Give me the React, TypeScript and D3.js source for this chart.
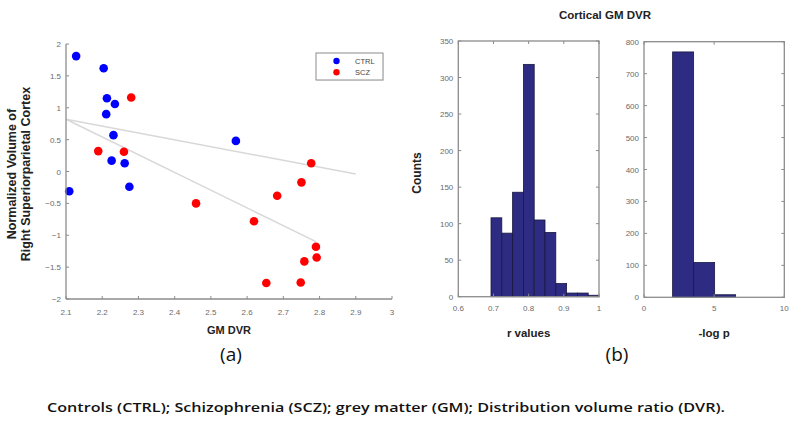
import React from "react";
import * as d3 from "d3";

const ctrlX = [2.128, 2.204, 2.213, 2.235, 2.211, 2.231, 2.226, 2.262, 2.109, 2.275, 2.569];
const ctrlY = [1.81, 1.62, 1.15, 1.06, 0.9, 0.57, 0.17, 0.13, -0.31, -0.24, 0.48];
const sczX = [2.28, 2.189, 2.26, 2.459, 2.777, 2.75, 2.683, 2.619, 2.79, 2.792, 2.758, 2.653, 2.748];
const sczY = [1.16, 0.32, 0.31, -0.5, 0.13, -0.17, -0.38, -0.78, -1.18, -1.35, -1.41, -1.75, -1.74];
const fitAX = [2.1, 2.9];
const fitAY = [0.82, -0.04];
const fitBX = [2.1, 2.79];
const fitBY = [0.82, -1.1];

const scatterXTicks = [2.1, 2.2, 2.3, 2.4, 2.5, 2.6, 2.7, 2.8, 2.9, 3];
const scatterYTicks = [-2, -1.5, -1, -0.5, 0, 0.5, 1, 1.5, 2];

const rStart = 0.693;
const rWidth = 0.0307;
const rCounts = [108, 87, 143, 318, 105, 88, 18, 5, 5, 2];
const rXTicks = [0.6, 0.7, 0.8, 0.9, 1];
const rYTicks = [0, 50, 100, 150, 200, 250, 300, 350];

const pStart = 2.04;
const pWidth = 1.497;
const pCounts = [768, 109, 8];
const pXTicks = [0, 5, 10];
const pYTicks = [0, 100, 200, 300, 400, 500, 600, 700, 800];

const AX = "#8c8c8c";
const TICKTXT = "#6b6b6b";
const BAR = "#2d2b82";
const FONT = "'Liberation Sans', Arial, sans-serif";

function fmt(v: number) {
  return d3.format("~g")(v);
}

function Histogram({
  x,
  y,
  start,
  width,
  counts,
  xTicks,
  yTicks,
  xLabel,
}: any) {
  const [x0, x1] = x.range();
  const [y0, y1] = y.range();
  const t = 3;
  return (
    <g>
      {counts.map((c: number, i: number) => (
        <rect
          key={i}
          x={x(start + i * width)}
          y={y(c)}
          width={x(start + (i + 1) * width) - x(start + i * width)}
          height={y(0) - y(c)}
          fill={BAR}
          stroke="#1a1940"
          strokeWidth={0.8}
        />
      ))}
      <rect x={x0} y={y1} width={x1 - x0} height={y0 - y1} fill="none" stroke={AX} strokeWidth={1.3} />
      {xTicks.map((v: number) => (
        <g key={"x" + v}>
          <line x1={x(v)} x2={x(v)} y1={y0} y2={y0 - t} stroke={AX} />
          <line x1={x(v)} x2={x(v)} y1={y1} y2={y1 + t} stroke={AX} />
          <text x={x(v)} y={y0 + 14} textAnchor="middle" fontSize={8} fill={TICKTXT} fontFamily={FONT}>
            {fmt(v)}
          </text>
        </g>
      ))}
      {yTicks.map((v: number) => (
        <g key={"y" + v}>
          <line x1={x0} x2={x0 + t} y1={y(v)} y2={y(v)} stroke={AX} />
          <line x1={x1} x2={x1 - t} y1={y(v)} y2={y(v)} stroke={AX} />
          <text x={x0 - 5} y={y(v) + 3} textAnchor="end" fontSize={8} fill={TICKTXT} fontFamily={FONT}>
            {fmt(v)}
          </text>
        </g>
      ))}
      <text x={(x0 + x1) / 2} y={337} textAnchor="middle" fontSize={11.5} fontWeight="bold" fill="#222" fontFamily={FONT}>
        {xLabel}
      </text>
    </g>
  );
}

export default function App() {
  const sx = d3.scaleLinear().domain([2.1, 3]).range([66, 392]);
  const sy = d3.scaleLinear().domain([-2, 2]).range([299, 44]);
  const hx1 = d3.scaleLinear().domain([0.6, 1]).range([458.3, 599]);
  const hy1 = d3.scaleLinear().domain([0, 350]).range([296.7, 41]);
  const hx2 = d3.scaleLinear().domain([0, 10]).range([644, 784.3]);
  const hy2 = d3.scaleLinear().domain([0, 800]).range([297.3, 41.7]);
  const line = d3
    .line<[number, number]>()
    .x((d) => sx(d[0]))
    .y((d) => sy(d[1]));
  const fitA = fitAX.map((v, i) => [v, fitAY[i]] as [number, number]);
  const fitB = fitBX.map((v, i) => [v, fitBY[i]] as [number, number]);

  return (
    <svg width={800} height={424} style={{ position: "absolute", left: 0, top: 0, background: "#fff" }}>
      <rect width={800} height={424} fill="#fff" />
      {/* scatter panel */}
      <path d={line(fitA) || ""} stroke="#d8d8d8" strokeWidth={1.5} fill="none" />
      <path d={line(fitB) || ""} stroke="#d8d8d8" strokeWidth={1.5} fill="none" />
      {ctrlX.map((v, i) => (
        <circle key={"c" + i} cx={sx(v)} cy={sy(ctrlY[i])} r={4.3} fill="#0000ff" />
      ))}
      {sczX.map((v, i) => (
        <circle key={"s" + i} cx={sx(v)} cy={sy(sczY[i])} r={4.3} fill="#ff0000" />
      ))}
      <line x1={66} x2={66} y1={44} y2={299} stroke={AX} strokeWidth={1.3} />
      <line x1={66} x2={392} y1={299} y2={299} stroke={AX} strokeWidth={1.3} />
      {scatterXTicks.map((v) => (
        <g key={"sx" + v}>
          <line x1={sx(v)} x2={sx(v)} y1={299} y2={296} stroke={AX} />
          <text x={sx(v)} y={315} textAnchor="middle" fontSize={8} fill={TICKTXT} fontFamily={FONT}>
            {fmt(v)}
          </text>
        </g>
      ))}
      {scatterYTicks.map((v) => (
        <g key={"sy" + v}>
          <line x1={66} x2={69} y1={sy(v)} y2={sy(v)} stroke={AX} />
          <text x={61} y={sy(v) + 3} textAnchor="end" fontSize={8} fill={TICKTXT} fontFamily={FONT}>
            {fmt(v)}
          </text>
        </g>
      ))}
      <text x={229} y={334} textAnchor="middle" fontSize={11} fontWeight="bold" fill="#222" fontFamily={FONT}>
        GM DVR
      </text>
      <text transform="translate(16,174) rotate(-90)" textAnchor="middle" fontSize={12.5} fontWeight="bold" fill="#222" fontFamily={FONT}>
        Normalized Volume of
      </text>
      <text transform="translate(30,174) rotate(-90)" textAnchor="middle" fontSize={12.5} fontWeight="bold" fill="#222" fontFamily={FONT}>
        Right Superiorparietal Cortex
      </text>
      {/* legend */}
      <rect x={317} y={54} width={67} height={27} fill="#f2f2f2" />
      <rect x={316} y={53} width={67} height={27} fill="#fff" stroke={AX} strokeWidth={1} />
      <circle cx={336.5} cy={61} r={3.2} fill="#0000ff" />
      <circle cx={336.5} cy={72.3} r={3.2} fill="#ff0000" />
      <text x={355} y={64} fontSize={7.5} fill="#444" fontFamily={FONT}>
        CTRL
      </text>
      <text x={355} y={75} fontSize={7.5} fill="#444" fontFamily={FONT}>
        SCZ
      </text>

      {/* histograms */}
      <text x={605} y={19} textAnchor="middle" fontSize={11.5} fontWeight="bold" fill="#222" fontFamily={FONT}>
        Cortical GM DVR
      </text>
      <text transform="translate(421,173) rotate(-90)" textAnchor="middle" fontSize={12} fontWeight="bold" fill="#222" fontFamily={FONT}>
        Counts
      </text>
      <Histogram x={hx1} y={hy1} start={rStart} width={rWidth} counts={rCounts} xTicks={rXTicks} yTicks={rYTicks} xLabel="r values" />
      <Histogram x={hx2} y={hy2} start={pStart} width={pWidth} counts={pCounts} xTicks={pXTicks} yTicks={pYTicks} xLabel="-log p" />

      {/* panel labels and caption */}
      <text x={231} y={361} textAnchor="middle" fontSize={19} fill="#111" fontFamily="'Open Sans', sans-serif">
        (a)
      </text>
      <text x={617} y={361} textAnchor="middle" fontSize={19} fill="#111" fontFamily="'Open Sans', sans-serif">
        (b)
      </text>
      <text x={47} y={412} fontSize={12.5} fontWeight={600} fill="#111" fontFamily="'Open Sans', sans-serif" textLength={678} lengthAdjust="spacingAndGlyphs">
        Controls (CTRL);  Schizophrenia  (SCZ);  grey  matter  (GM);  Distribution  volume  ratio  (DVR).
      </text>
    </svg>
  );
}
